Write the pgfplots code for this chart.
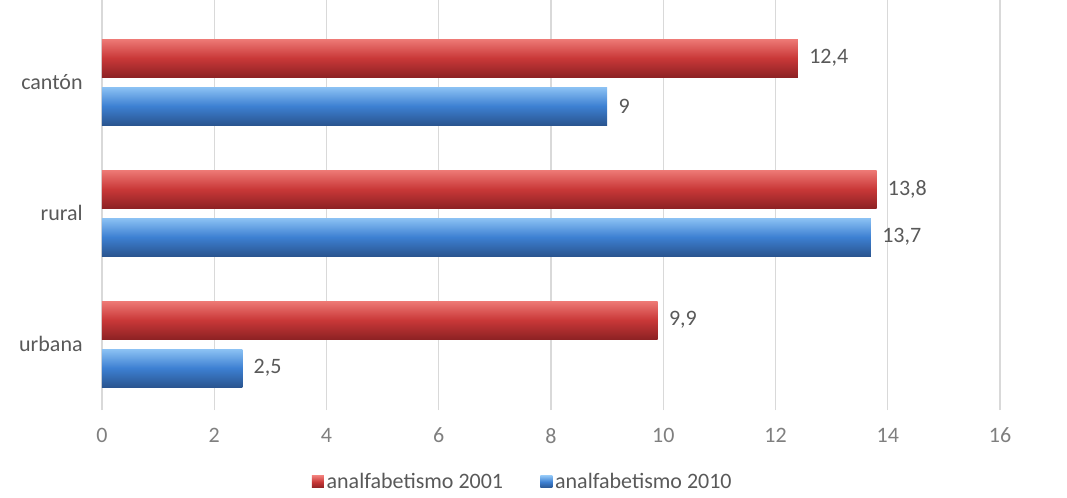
\documentclass[border=0pt]{standalone}
\usepackage{pgfplots}
\pgfplotsset{compat=1.18}
\usepackage{fontspec}
\setmainfont{Carlito}
\definecolor{txt}{HTML}{595959}
\definecolor{tick}{HTML}{7F7F7F}
\definecolor{gridc}{HTML}{D9D9D9}
\definecolor{redT}{HTML}{EE7A76}
\definecolor{redM}{HTML}{C93838}
\definecolor{redB}{HTML}{8E2224}
\definecolor{bluT}{HTML}{8CC2F4}
\definecolor{bluM}{HTML}{3D80D2}
\definecolor{bluB}{HTML}{2A5590}

\begin{document}
\begin{tikzpicture}
\useasboundingbox (-76.5pt,-72.75pt) rectangle (723.75pt,300pt);
\begin{axis}[
    at={(0,0)}, anchor=south west,
    scale only axis,
    width=673.5pt, height=292.5pt,
    font=\fontsize{16.5}{19}\selectfont,
    xmin=0, xmax=16,
    xtick={0,2,...,16},
    ymin=-0.4275, ymax=2.55,
    ytick={0,1,2},
    yticklabels={urbana,rural,cantón},
    axis line style={draw=none},
    xmajorgrids,
    grid style={gridc, line width=0.8pt},
    xtick align=outside,
    xtick style={gridc, line width=0.8pt},
    major tick length=7.5pt,
    ytick style={draw=none},
    xticklabel style={color=tick, yshift=-10pt},
    yticklabel style={color=txt, xshift=-3.5pt},
    /pgf/number format/assume math mode=true,
    /pgf/number format/use comma,
    xbar,
    bar width=28.5pt,
    nodes near coords,
    nodes near coords style={color=txt, anchor=west, xshift=5pt},
    clip=false,
    legend columns=2,
    legend style={draw=none, fill=none, at={(0.469,-0.21)}, anchor=center,
        text=txt, font=\fontsize{16.5}{19}\selectfont,
        /tikz/every even column/.append style={column sep=26pt}},
    legend image code/.code={\path[#1,draw=none] (0pt,-4.5pt) rectangle (9pt,4.5pt);},
    red bar/.style={draw=none, bar shift=18pt, top color=redT, bottom color=redB, middle color=redM},
    blue bar/.style={draw=none, bar shift=-18pt, top color=bluT, bottom color=bluB, middle color=bluM},
]
% analfabetismo 2001 (red), analfabetismo 2010 (blue); one plot per bar so each bar gets its own shading
\addplot[red bar] coordinates {(9.9,0)};
\addplot[blue bar] coordinates {(2.5,0)};
\addplot[red bar, forget plot] coordinates {(13.8,1)};
\addplot[blue bar, forget plot] coordinates {(13.7,1)};
\addplot[red bar, forget plot] coordinates {(12.4,2)};
\addplot[blue bar, forget plot] coordinates {(9,2)};
\legend{analfabetismo 2001, analfabetismo 2010}
\end{axis}
\end{tikzpicture}
\end{document}
